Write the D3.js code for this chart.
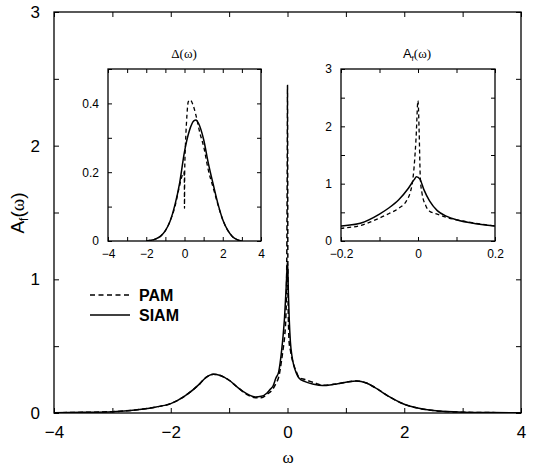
<!DOCTYPE html>
<html><head><meta charset="utf-8">
<script src="https://cdn.jsdelivr.net/npm/d3@7"></script>
<style>body{margin:0;background:#fff}svg{display:block}</style>
</head><body>
<svg id="c" width="547" height="468"></svg>
<script>
// ---- data: main A_f(omega) ----
const siamOmega = [-4.0,-3.5,-3.0,-2.5,-2.25,-2.0,-1.75,-1.5,-1.4,-1.27,-1.15,-1.0,-0.85,-0.7,-0.55,-0.45,-0.35,-0.3,-0.25,-0.2,-0.15,-0.1,-0.075,-0.05,-0.025,-0.01,-0.004,0.005,0.015,0.03,0.05,0.075,0.1,0.15,0.2,0.3,0.45,0.6,0.8,1.0,1.18,1.35,1.5,1.75,2.0,2.25,2.5,3.0,3.5,4.0];
const siamA     = [0.002,0.005,0.01,0.028,0.045,0.07,0.13,0.22,0.265,0.29,0.28,0.245,0.19,0.145,0.12,0.125,0.15,0.175,0.2,0.26,0.31,0.47,0.58,0.72,0.92,1.07,1.12,1.08,0.9,0.7,0.53,0.43,0.37,0.3,0.26,0.235,0.215,0.205,0.215,0.23,0.24,0.225,0.19,0.12,0.065,0.035,0.018,0.006,0.003,0.001];
const pamOmega  = [-4.0,-3.5,-3.0,-2.5,-2.25,-2.0,-1.75,-1.5,-1.4,-1.27,-1.15,-1.0,-0.85,-0.7,-0.55,-0.45,-0.35,-0.25,-0.2,-0.15,-0.1,-0.075,-0.05,-0.03,-0.02,-0.015,-0.01,-0.005,0,0.003,0.006,0.01,0.02,0.03,0.05,0.075,0.1,0.15,0.2,0.3,0.4,0.5,0.6,0.8,1.0,1.18,1.35,1.5,1.75,2.0,2.25,2.5,3.0,3.5,4.0];
const pamA      = [0.002,0.005,0.01,0.028,0.045,0.07,0.13,0.22,0.265,0.29,0.28,0.245,0.19,0.14,0.115,0.115,0.14,0.18,0.22,0.27,0.40,0.48,0.57,0.7,0.85,1.0,1.3,1.8,2.45,1.9,1.1,0.85,0.62,0.52,0.47,0.41,0.37,0.31,0.265,0.25,0.235,0.22,0.207,0.215,0.23,0.24,0.225,0.19,0.12,0.065,0.035,0.018,0.006,0.003,0.001];
// ---- data: hybridization Delta(omega) inset ----
const siamDeltaOmega = [-2.0,-1.75,-1.5,-1.25,-1.0,-0.75,-0.5,-0.25,0,0.25,0.5,0.6,0.75,1.0,1.25,1.5,1.75,2.0,2.25,2.5,2.75,3.0];
const siamDelta      = [0,0.002,0.006,0.014,0.03,0.058,0.105,0.17,0.26,0.32,0.35,0.352,0.34,0.295,0.225,0.165,0.108,0.062,0.032,0.013,0.004,0];
const pamDeltaOmega  = [-2.0,-1.75,-1.5,-1.25,-1.0,-0.75,-0.5,-0.3,-0.15,-0.05,-0.01,0,0.01,0.05,0.1,0.2,0.3,0.45,0.6,0.8,1.0,1.25,1.5,1.75,2.0,2.25,2.5,2.75,3.0];
const pamDelta       = [0,0.002,0.006,0.014,0.03,0.058,0.1,0.15,0.185,0.2,0.19,0.095,0.2,0.28,0.34,0.405,0.41,0.395,0.365,0.315,0.275,0.205,0.155,0.105,0.062,0.032,0.013,0.004,0];
// ---- ticks / labels ----
const mainXTicks = [-4,-3,-2,-1,0,1,2,3,4];
const mainXLabels = [-4,-2,0,2,4];
const mainYTicks = [0,0.5,1,1.5,2,2.5,3];
const mainYLabels = [0,1,2,3];
const in1XTicks = [-4,-3,-2,-1,0,1,2,3,4];
const in1XLabels = [-4,-2,0,2,4];
const in1YTicks = [0,0.1,0.2,0.3,0.4,0.5];
const in1YLabels = [0,0.2,0.4];
const in2XTicks = [-0.2,-0.1,0,0.1,0.2];
const in2XLabels = [-0.2,0,0.2];
const in2YTicks = [0,0.5,1,1.5,2,2.5,3];
const in2YLabels = [0,1,2,3];
const legendNames = ["PAM","SIAM"];

const svg = d3.select("#c");
const SANS = "'Liberation Sans', Arial, Helvetica, sans-serif";
const SERIF = "'Liberation Serif', 'Times New Roman', serif";
const fmt = v => (v < 0 ? "\u2212" : "") + String(Math.abs(v));

function panel(o){
  const g = svg.append("g");
  const x = d3.scaleLinear().domain(o.xd).range([o.l, o.r]);
  const y = d3.scaleLinear().domain(o.yd).range([o.b, o.t]);
  g.append("rect").attr("x",o.l).attr("y",o.t).attr("width",o.r-o.l).attr("height",o.b-o.t).attr("fill","#fff");
  const clipId = "clip"+o.id;
  svg.append("clipPath").attr("id",clipId).append("rect").attr("x",o.l).attr("y",o.t).attr("width",o.r-o.l).attr("height",o.b-o.t);
  const has = (arr,v)=>arr.some(a=>Math.abs(a-v)<1e-9);
  const styleAxis = (sel)=>{sel.select(".domain").remove(); sel.selectAll("line").attr("stroke","#000").attr("stroke-width",1);
    sel.selectAll("text").attr("font-family",SANS).attr("font-size",o.fs).attr("fill","#000");};
  g.append("g").attr("transform",`translate(0,${o.b})`)
    .call(d3.axisBottom(x).tickValues(o.xt).tickSizeInner(-o.tl).tickSizeOuter(0).tickPadding(o.xpad).tickFormat(v=>has(o.xl,v)?fmt(v):""))
    .call(styleAxis);
  g.append("g").attr("transform",`translate(0,${o.t})`)
    .call(d3.axisTop(x).tickValues(o.xt).tickSizeInner(-o.tl).tickSizeOuter(0).tickFormat(""))
    .call(styleAxis);
  g.append("g").attr("transform",`translate(${o.l},0)`)
    .call(d3.axisLeft(y).tickValues(o.yt).tickSizeInner(-o.tl).tickSizeOuter(0).tickPadding(o.ypad).tickFormat(v=>has(o.yl,v)?fmt(v):""))
    .call(styleAxis);
  g.append("g").attr("transform",`translate(${o.r},0)`)
    .call(d3.axisRight(y).tickValues(o.yt).tickSizeInner(-o.tl).tickSizeOuter(0).tickFormat(""))
    .call(styleAxis);
  const cg = g.append("g").attr("clip-path",`url(#${clipId})`);
  o.series.forEach(s=>{
    const pts = s.xs.map((v,i)=>[v,s.ys[i]]);
    cg.append("path").datum(pts)
      .attr("d", d3.line().x(d=>x(d[0])).y(d=>y(d[1])).curve(d3.curveMonotoneX))
      .attr("fill","none").attr("stroke","#000").attr("stroke-width",s.w)
      .attr("stroke-dasharray", s.dash || null);
  });
  g.append("rect").attr("x",o.l).attr("y",o.t).attr("width",o.r-o.l).attr("height",o.b-o.t)
    .attr("fill","none").attr("stroke","#000").attr("stroke-width",1.3);
  return {x,y,g};
}

// main panel
panel({id:"m", l:54, r:521, t:12, b:413, xd:[-4,4], yd:[0,3],
  xt:mainXTicks, xl:mainXLabels, yt:mainYTicks, yl:mainYLabels, tl:5, fs:17, xpad:13, ypad:14,
  series:[{xs:siamOmega, ys:siamA, w:1.5},{xs:pamOmega, ys:pamA, w:1.5, dash:"5,3"}]});

// inset 1: Delta(omega)
panel({id:"a", l:108, r:261, t:69, b:241, xd:[-4,4], yd:[0,0.5],
  xt:in1XTicks, xl:in1XLabels, yt:in1YTicks, yl:in1YLabels, tl:4, fs:12, xpad:8, ypad:9,
  series:[{xs:siamDeltaOmega, ys:siamDelta, w:1.5},{xs:pamDeltaOmega, ys:pamDelta, w:1.3, dash:"4,3"}]});

// inset 2: A_f zoom
panel({id:"b", l:341, r:495, t:69, b:241, xd:[-0.2,0.2], yd:[0,3],
  xt:in2XTicks, xl:in2XLabels, yt:in2YTicks, yl:in2YLabels, tl:4, fs:12, xpad:8, ypad:9,
  series:[{xs:siamOmega, ys:siamA, w:1.5},{xs:pamOmega, ys:pamA, w:1.3, dash:"4,3"}]});

// titles and labels
svg.append("text").attr("x",184).attr("y",58).attr("text-anchor","middle")
  .attr("font-family",SERIF).attr("font-size",13).text("\u0394(\u03c9)");
const t2 = svg.append("text").attr("x",417).attr("y",58).attr("text-anchor","middle").attr("font-size",13);
t2.append("tspan").attr("font-family",SANS).text("A");
t2.append("tspan").attr("font-family",SANS).attr("font-size",8).attr("dy",3).text("f");
t2.append("tspan").attr("font-family",SERIF).attr("dy",-3).text("(\u03c9)");

const yl = svg.append("text").attr("transform","translate(24,213) rotate(-90)").attr("text-anchor","middle").attr("font-size",19);
yl.append("tspan").attr("font-family",SANS).text("A");
yl.append("tspan").attr("font-family",SANS).attr("font-size",12).attr("dy",4).text("f");
yl.append("tspan").attr("font-family",SANS).attr("dy",-4).text("(");
yl.append("tspan").attr("font-family",SERIF).text("\u03c9");
yl.append("tspan").attr("font-family",SANS).text(")");

svg.append("text").attr("x",288).attr("y",463).attr("text-anchor","middle")
  .attr("font-family",SERIF).attr("font-size",17).text("\u03c9");

// legend
const leg = svg.append("g");
legendNames.forEach((n,i)=>{
  const yy = 295 + i*20;
  leg.append("line").attr("x1",90).attr("x2",130).attr("y1",yy).attr("y2",yy)
    .attr("stroke","#000").attr("stroke-width",1.4).attr("stroke-dasharray", i===0 ? "5,3.5" : null);
  leg.append("text").attr("x",139).attr("y",yy+6).attr("font-family",SANS).attr("font-weight","bold")
    .attr("font-size",16).text(n);
});
</script>
</body></html>
